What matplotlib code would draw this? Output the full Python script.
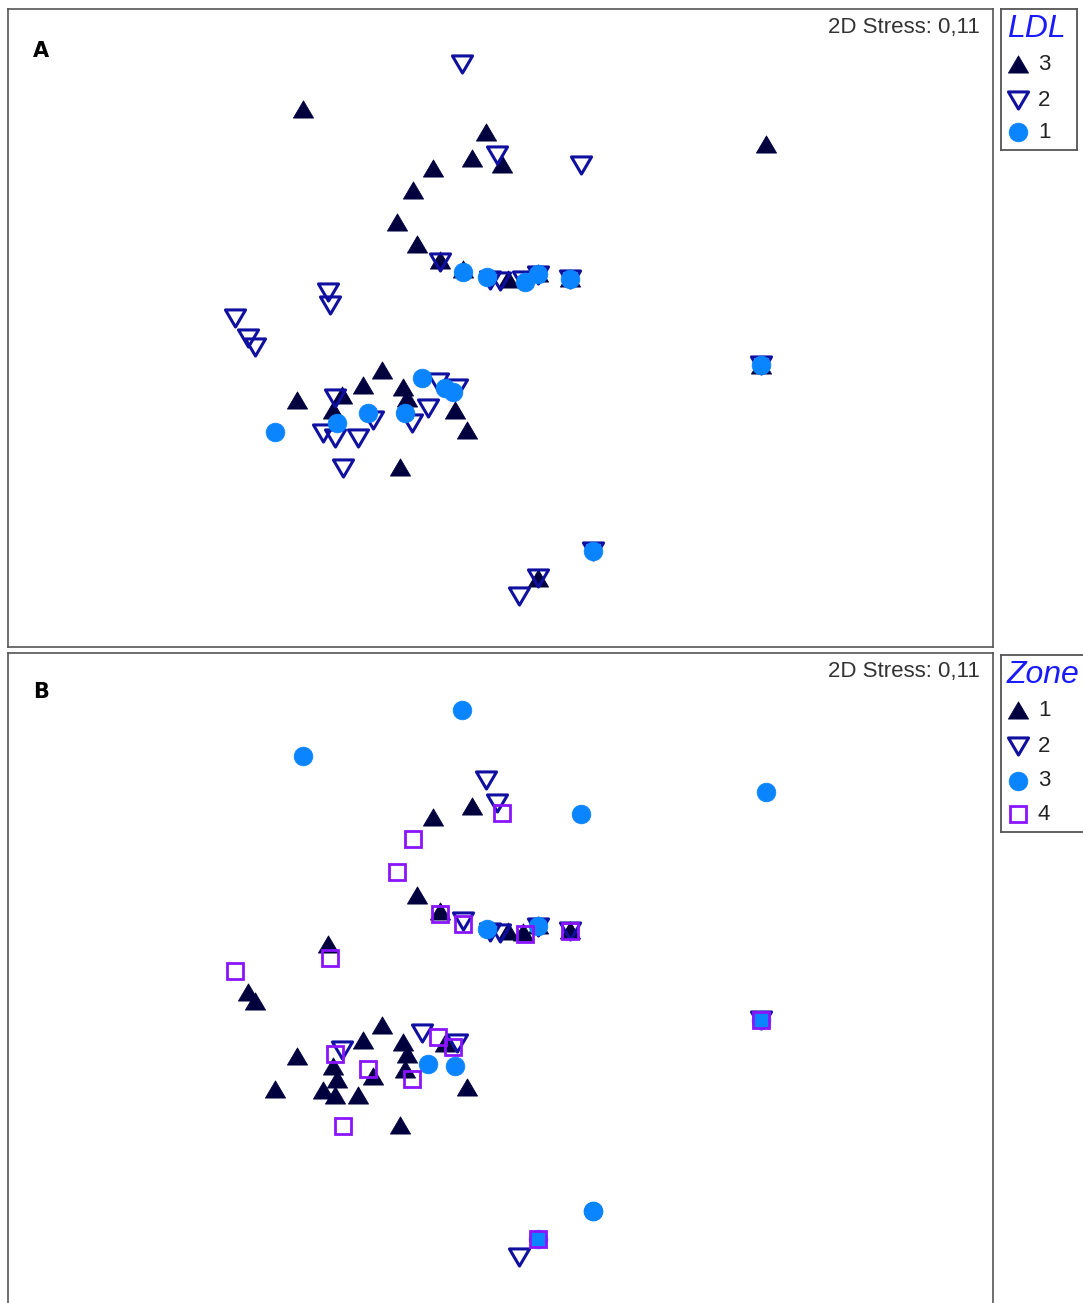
import matplotlib.pyplot as plt
from matplotlib.path import Path

# NMDS ordination, 68 samples
nmds1 = [-0.38, -1.97, -0.14, -0.03, -0.28, 0.02, 0.81, -0.67, 2.66, -0.87,
         -1.03, -0.83, -0.60, -0.60, -0.37, -0.37, -0.13, -0.10, 0.00, 0.08,
         0.25, 0.23, 0.38, 0.38, 0.38, 0.70, 0.70, 0.70, -1.72, -1.70,
         -2.65, -2.52, -2.45, -1.18, -1.37, -2.03, -1.58, -1.65, -1.67, -0.97,
         -0.93, -0.78, -0.62, -0.55, -0.47, -0.43, -0.45, -0.33, -0.72, -0.95,
         -0.88, -1.32, -1.27, -1.63, -2.25, -1.77, -1.65, -1.42, -1.57, -1.00,
         2.61, 2.61, 2.61, 0.93, 0.93, 0.38, 0.38, 0.19]
nmds2 = [2.66, 2.21, 1.98, 1.75, 1.72, 1.66, 1.65, 1.62, 1.86, 1.40,
         1.08, 0.86, 0.70, 0.68, 0.58, 0.61, 0.53, 0.50, 0.49, 0.51,
         0.48, 0.50, 0.56, 0.55, 0.57, 0.51, 0.51, 0.52, 0.38, 0.25,
         0.12, -0.08, -0.17, -0.40, -0.55, -0.70, -0.65, -0.68, -0.80, -0.57,
         -0.68, -0.48, -0.52, -0.58, -0.62, -0.58, -0.80, -1.00, -0.78, -0.83,
         -0.93, -0.83, -0.90, -0.93, -1.02, -1.03, -1.08, -1.08, -1.38, -1.37,
         -0.35, -0.35, -0.35, -2.21, -2.21, -2.48, -2.48, -2.66]
ldl = [2, 3, 3, 2, 3, 3, 2, 3, 3, 3,
       3, 3, 3, 2, 1, 3, 1, 2, 2, 3,
       1, 2, 1, 2, 3, 1, 2, 3, 2, 2,
       2, 2, 2, 3, 3, 3, 3, 2, 3, 3,
       3, 1, 2, 1, 1, 2, 3, 3, 2, 1,
       2, 1, 2, 1, 1, 2, 2, 2, 2, 3,
       1, 2, 3, 1, 2, 3, 2, 2]
zone = [3, 3, 2, 2, 1, 4, 3, 1, 3, 4,
        4, 1, 1, 4, 4, 2, 3, 2, 2, 1,
        4, 1, 3, 2, 1, 4, 2, 1, 1, 4,
        4, 1, 1, 1, 1, 1, 2, 4, 1, 1,
        1, 2, 4, 1, 4, 2, 3, 1, 3, 1,
        4, 4, 1, 1, 1, 1, 1, 1, 4, 1,
        3, 4, 2, 3, 3, 4, 3, 2]

ldl_order = [3, 2, 1]
zone_order = [1, 2, 3, 4]
stress = "2D Stress: 0,11"

W, H = 1083, 1303
fig = plt.figure(figsize=(W / 100, H / 100), dpi=100)


def px_axes(x0, y0, x1, y1):
    return fig.add_axes([x0 / W, 1 - y1 / H, (x1 - x0) / W, (y1 - y0) / H])


up = Path([(-1, -0.85), (1, -0.85), (0, 0.85), (-1, -0.85)], closed=True)
dn = Path([(-1, 0.85), (1, 0.85), (0, -0.85), (-1, 0.85)], closed=True)

sty = {
    'tri': dict(marker=up, ms=14.5, mfc='#00003f', mec='#00003f', mew=0.6),
    'inv': dict(marker=dn, ms=14.5, mfc='none', mec='#1010a0', mew=2.2),
    'dot': dict(marker='o', ms=13.5, mfc='#0a84ff', mec='#0a84ff', mew=0.5),
    'sq': dict(marker='s', ms=11, mfc='none', mec='#8a14ff', mew=2.0),
}
ldl_sty = {3: 'tri', 2: 'inv', 1: 'dot'}
zone_sty = {1: 'tri', 2: 'inv', 3: 'dot', 4: 'sq'}


def panel(ax, groups, order, smap):
    for g in order:
        xs = [x for x, k in zip(nmds1, groups) if k == g]
        ys = [y for y, k in zip(nmds2, groups) if k == g]
        ax.plot(xs, ys, ls='none', **sty[smap[g]])
    ax.set_xlim(-4.92, 4.93)
    ax.set_ylim(-3.17, 3.21)
    ax.set_xticks([])
    ax.set_yticks([])
    for s in ax.spines.values():
        s.set_color('#555555')
        s.set_linewidth(1.2)


def legend(ax, title, order, smap, ys, xmax):
    ax.set_xlim(0, xmax)
    ax.set_ylim(ys[-1] + 18, 0)
    ax.set_xticks([])
    ax.set_yticks([])
    for s in ax.spines.values():
        s.set_color('#555555')
        s.set_linewidth(1.3)
    ax.text(6, 20, title, fontsize=23, style='italic', color='#1a1aff',
            va='center', ha='left', family='Liberation Sans')
    for g, y in zip(order, ys):
        ax.plot([17], [y], ls='none', clip_on=False, **sty[smap[g]])
        ax.text(37, y, str(g), fontsize=16, color='#222222', va='center',
                ha='left', family='Liberation Sans')


axA = px_axes(8, 9, 993, 647)
panel(axA, ldl, ldl_order, ldl_sty)
axB = px_axes(8, 653, 993, 1310)
panel(axB, zone, zone_order, zone_sty)

legend(px_axes(1001, 9, 1077, 150), 'LDL', ldl_order, ldl_sty,
       [55, 91, 123], 76)
legend(px_axes(1001, 655, 1095, 832), 'Zone', zone_order, zone_sty,
       [55, 91, 126, 159], 94)

for lab, ytop in (('A', 51), ('B', 692)):
    fig.text(33 / W, 1 - ytop / H, lab, fontsize=15, fontweight='bold',
             va='center', ha='left')
for ytop in (27, 672):
    fig.text(980 / W, 1 - ytop / H, stress, fontsize=16, color='#333333',
             va='center', ha='right', family='Liberation Sans')

fig.savefig('out.png', dpi=100)
